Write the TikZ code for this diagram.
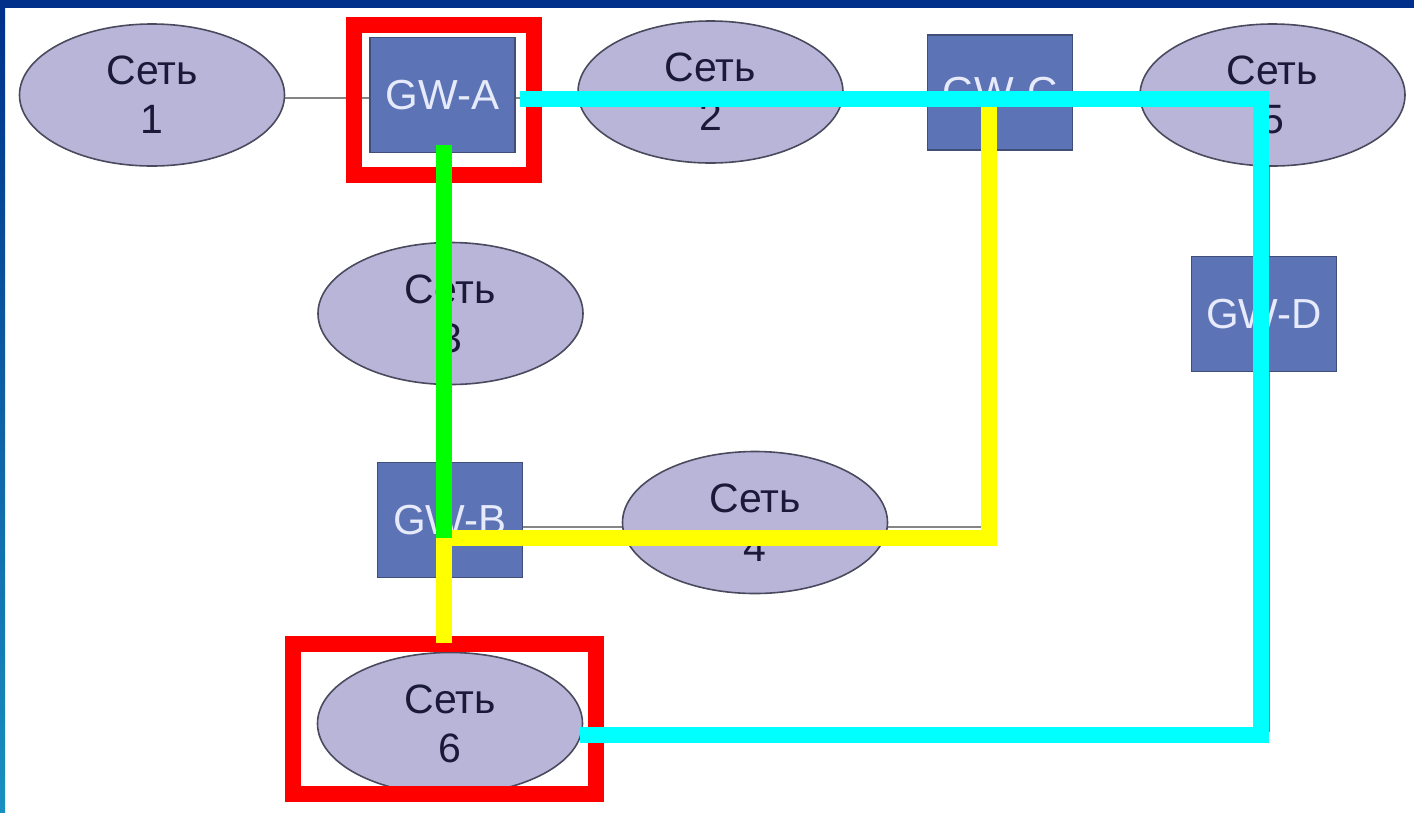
\documentclass[tikz,border=0pt]{standalone}
\usepackage{fontspec}
\setmainfont{Liberation Sans}
\usetikzlibrary{shapes.geometric}

\definecolor{netfill}{HTML}{B9B5D9}
\definecolor{netline}{HTML}{4A4A5E}
\definecolor{nettext}{HTML}{1A1A38}
\definecolor{gwfill}{HTML}{5C74B6}
\definecolor{gwline}{HTML}{404E78}
\definecolor{gwtext}{HTML}{E6EAFA}
\definecolor{linkgray}{HTML}{858585}
\definecolor{navyband}{HTML}{00308A}
\definecolor{tealband}{HTML}{1A90C0}
\definecolor{pathcyan}{HTML}{00FFFF}
\definecolor{pathgreen}{HTML}{00FF00}
\definecolor{pathyellow}{HTML}{FFFF00}
\definecolor{markred}{HTML}{FF0000}

\pgfdeclarelayer{paper}
\pgfdeclarelayer{links}
\pgfsetlayers{paper,links,main}

\tikzset{
  net/.style={ellipse, draw=netline, line width=1.6pt, fill=netfill,
    minimum width=265pt, minimum height=142pt, inner sep=0pt,
    align=center, text=nettext, font=\fontsize{41}{49}\selectfont},
  gateway/.style={rectangle, draw=gwline, line width=1.6pt, fill=gwfill,
    minimum width=145pt, minimum height=115pt, inner sep=0pt,
    text=gwtext, font=\fontsize{42}{50}\selectfont},
  link/.style={draw=linkgray, line width=1.6pt},
  route/.style={line width=15.5pt, line cap=butt, line join=miter},
  markframe/.style={draw=markred, line width=16pt, line join=miter}
}

\begin{document}
\begin{tikzpicture}[x=1pt,y=-1pt]
  \begin{pgfonlayer}{paper}
    \fill[white] (0,0) rectangle (1414,812);
  \end{pgfonlayer}
  \useasboundingbox (0,0) rectangle (1414,812);

  % networks and gateways
  \node[net] (net1) at (152,95) {Сеть\\1};
  \node[gateway] (gwa) at (442.5,95) {GW-A};
  \node[net] (net2) at (710.5,92) {Сеть\\2};
  \node[gateway] (gwc) at (1000,92.5) {GW-C};
  \node[net] (net5) at (1272.5,95) {Сеть\\5};
  \node[net] (net3) at (450.5,313.5) {Сеть\\3};
  \node[gateway] (gwd) at (1264,314) {GW-D};
  \node[gateway] (gwb) at (450,520) {GW-B};
  \node[net] (net4) at (755,522.5) {Сеть\\4};
  \node[net] (net6) at (450,723.5) {Сеть\\6};

  % plain links between networks and gateways (drawn beneath the nodes)
  \coordinate (row1) at (0,98);
  \coordinate (row4) at (0,527);
  \coordinate (gcfoot) at (989,150);
  \coordinate (gdx) at (1269.5,0);
  \coordinate (gdturn) at (1269.5,731);
  \begin{pgfonlayer}{links}
    \draw[link] (net1.center |- row1) -- (gwa.center |- row1);
    \draw[link] (gwa.center |- row1) -- (net2.center |- row1);
    \draw[link] (gwb.center |- row4) -- (net4.center |- row4);
    \draw[link] (net4.center |- row4) -| (gcfoot);
    \draw[link] (net5.center -| gdx) -- (gwd.center -| gdx);
    \draw[link] (gwd.center -| gdx) -- (gdturn) -- (net6.center |- gdturn);
  \end{pgfonlayer}

  % highlighted end points
  \draw[markframe] (354,24.5) rectangle (534,174.5);
  \draw[markframe] (293,644) rectangle (596,794);

  % route points
  \coordinate (cyA) at (520,99);
  \coordinate (cyB) at (1261,99);
  \coordinate (cyC) at (1261,735);
  \coordinate (cyD) at (580,735);
  \coordinate (grA) at (444,145);
  \coordinate (grB) at (444,538);
  \coordinate (yeA) at (989,107);
  \coordinate (yeB) at (989,538);
  \coordinate (yeC) at (444,538);
  \coordinate (yeD) at (444,643);

  % routes
  \draw[route, pathyellow] (yeA) -- (yeB) -- (yeC) -- (yeD);
  \draw[route, pathgreen] (grA) -- (grB);
  \draw[route, pathcyan] (cyA) -- (cyB) -- (cyC) -- (cyD);

  % slide frame
  \fill[navyband] (0,0) rectangle (1414,8);
  \shade[top color=navyband, middle color=navyband!70!tealband, bottom color=tealband]
    (0,0) rectangle (5,812);
\end{tikzpicture}
\end{document}
